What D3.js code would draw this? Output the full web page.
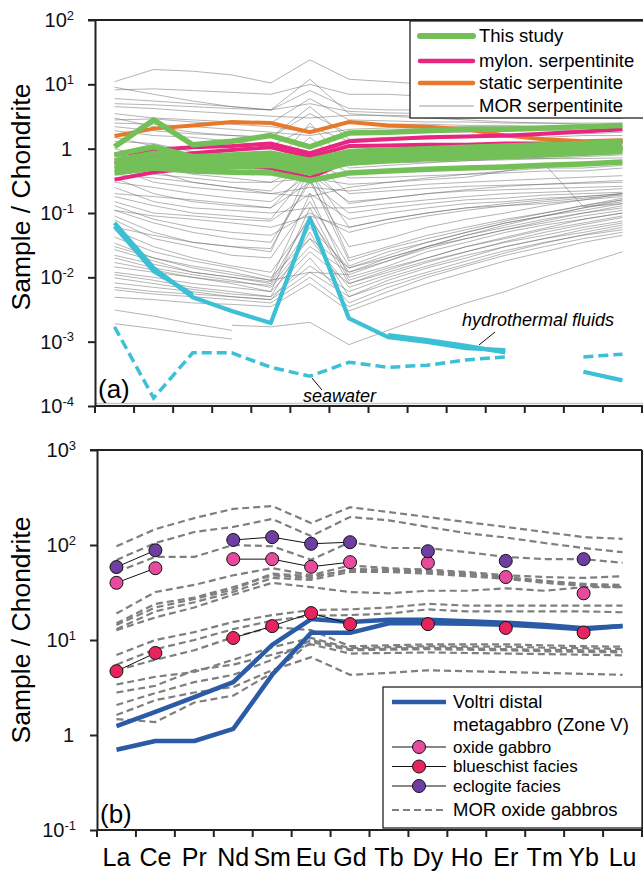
<!DOCTYPE html>
<html>
<head>
<meta charset="utf-8">
<script src="https://cdn.jsdelivr.net/npm/d3@7"></script>
<style>
  body { margin: 0; background: #fff; }
  svg { display: block; font-family: 'Liberation Sans', Arial, sans-serif; }
</style>
</head>
<body>
<div id="chart"></div>
<script>
const W = 643
const H = 872

const rees = ['La', 'Ce', 'Pr', 'Nd', 'Sm', 'Eu', 'Gd', 'Tb', 'Dy', 'Ho', 'Er', 'Tm', 'Yb', 'Lu']
const _ = null

// ---- panel (a): serpentinites ----
const thisStudy = [
  [1.07, 2.8, 1.15, 1.3, 1.6, 1.07, 1.75, 1.8, 1.9, 2.0, 2.0, 2.1, 2.2, 2.3],
  [0.8, 1.07, 0.75, 0.8, 0.85, 0.66, 0.9, 0.95, 1.0, 1.05, 1.1, 1.15, 1.2, 1.3],
  [0.65, 0.85, 0.7, 0.7, 0.75, 0.55, 0.8, 0.85, 0.9, 0.9, 0.95, 1.0, 1.05, 1.1],
  [0.55, 0.7, 0.6, 0.6, 0.65, 0.5, 0.7, 0.75, 0.8, 0.82, 0.85, 0.9, 0.95, 1.0],
  [0.48, 0.6, 0.5, 0.52, 0.55, 0.42, 0.6, 0.65, 0.7, 0.72, 0.75, 0.8, 0.85, 0.9],
  [0.42, 0.5, 0.45, 0.43, 0.42, 0.32, 0.42, 0.45, 0.48, 0.5, 0.52, 0.55, 0.58, 0.62]
]
const mylonSerp = [
  [0.8, 0.95, 1.05, 1.1, 1.2, 0.85, 1.3, 1.4, 1.5, 1.55, 1.6, 1.7, 1.85, 2.0],
  [0.6, 0.75, 0.85, 0.95, 1.05, 0.75, 1.1, 1.12, 1.15, 1.15, 1.2, 1.2, 1.2, 1.3],
  [0.33, 0.43, 0.5, 0.55, 0.5, 0.35, 0.65, 0.75, 0.8, 0.8, 0.85, 0.9, 0.95, 1.0]
]
const staticSerp = [1.57, 2.05, 2.3, 2.6, 2.5, 1.8, 2.6, 2.3, 2.2, 2.0, 1.6, 1.4, 1.3, 1.35]
const morSerp = [
  [11, 17, 16, 14, 10.5, 24, 12, 11, 10, 9, 9, 8, 8, 8],
  [8.2, 8.5, 8, 7.5, 7, 10, 7, 7, 6.5, 6, 6, 6, 5.5, 5.5],
  [6, 5.5, 5, 4.5, 4, 8, 4.2, 4, 4, 3.8, 3.8, 3.6, 3.5, 3.5],
  [4.5, 4.2, 3.8, 3.5, 3.2, 3, 3.3, 3.3, 3.2, 3.2, 3.1, 3.1, 3, 3],
  [3.5, 3, 2.8, 2.6, 2.5, 6, 2.8, 2.7, 2.6, 2.6, 2.5, 2.5, 2.5, 2.5],
  [2.8, 2.9, 2.6, 2.4, 2.2, 1.8, 2.5, 2.4, 2.4, 2.3, 2.3, 2.2, 2.2, 2.2],
  [2.2, 1.9, 1.7, 1.6, 1.5, 3.5, 1.7, 1.8, 1.8, 1.8, 1.9, 1.9, 1.9, 2],
  [1.9, 1.6, 1.5, 1.3, 1.1, 2.2, 1.3, 1.4, 1.4, 1.5, 1.5, 1.5, 1.6, 1.6],
  [5, 4.8, 4.5, 4.2, 4, 5, 3.8, 3.6, 3.5, 3.4, 3.3, 3.2, 3.1, 3],
  [2.5, 2.4, 2.2, 2, 1.8, 1.6, 2, 2.1, 2.1, 2.2, 2.2, 2.2, 2.3, 2.3],
  [9, 7, 5.5, 4.5, 4, 12, 3.5, 3.2, 3, 2.8, 2.6, 2.5, 2.4, 2.3],
  [3, 2.2, 1.8, 1.6, 1.5, 4.5, 1.4, 1.5, 1.5, 1.6, 1.6, 1.7, 1.7, 1.8],
  [1.3, 1.2, 0.9, 0.8, 0.7, 0.5, 0.75, 0.8, 0.85, 0.9, 0.9, 0.95, 1, 1],
  [1.0, 0.7, 0.55, 0.5, 0.45, 1.5, 0.5, 0.55, 0.6, 0.65, 0.7, 0.7, 0.75, 0.8],
  [0.8, 0.6, 0.5, 0.45, 0.4, 0.9, 0.42, 0.45, 0.5, 0.5, 0.55, 0.55, 0.6, 0.6],
  [0.6, 0.55, 0.4, 0.35, 0.3, 0.6, 0.35, 0.36, 0.38, 0.4, 0.42, 0.45, 0.45, 0.5],
  [0.5, 0.3, 0.25, 0.22, 0.2, 0.25, 0.22, 0.25, 0.28, 0.3, 0.32, 0.34, 0.36, 0.38],
  [0.4, 0.35, 0.3, 0.25, 0.22, 0.7, 0.2, 0.22, 0.24, 0.26, 0.27, 0.28, 0.29, 0.3],
  [0.3, 0.25, 0.2, 0.17, 0.15, 0.4, 0.15, 0.17, 0.2, 0.22, 0.23, 0.24, 0.25, 0.26],
  [0.25, 0.15, 0.12, 0.11, 0.1, 0.12, 0.12, 0.14, 0.16, 0.18, 0.2, 0.21, 0.22, 0.24],
  [0.2, 0.18, 0.16, 0.14, 0.12, 0.3, 0.1, 0.12, 0.14, 0.16, 0.17, 0.19, 0.2, 0.21],
  [0.15, 0.1, 0.09, 0.08, 0.075, 0.2, 0.08, 0.1, 0.12, 0.14, 0.15, 0.17, 0.18, 0.2],
  [0.11, 0.09, 0.08, 0.07, 0.06, 0.09, 0.06, 0.08, 0.1, 0.12, 0.13, 0.14, 0.16, 0.18],
  [0.45, 0.4, 0.35, 0.3, 0.3, 0.35, 0.28, 0.3, 0.33, 0.36, 0.45, 0.58, 0.125, 0.14],
  [1.5, 1.1, 0.8, 0.6, 0.5, 2.5, 0.55, 0.6, 0.62, 0.65, 0.67, 0.7, 0.7, 0.72],
  [0.7, 0.45, 0.3, 0.25, 0.2, 0.18, 0.25, 0.3, 0.35, 0.4, 0.45, 0.5, 0.5, 0.55],
  [0.35, 0.2, 0.15, 0.13, 0.12, 0.5, 0.14, 0.17, 0.2, 0.23, 0.26, 0.28, 0.3, 0.32],
  [0.18, 0.13, 0.1, 0.09, 0.08, 0.45, 0.06, 0.08, 0.1, 0.12, 0.14, 0.16, 0.18, 0.2],
  [0.13, 0.08, 0.06, 0.05, 0.045, 0.1, 0.05, 0.07, 0.09, 0.11, 0.13, 0.15, 0.17, 0.19],
  [0.11, 0.07, 0.05, 0.04, 0.035, 0.3, 0.03, 0.04, 0.06, 0.08, 0.1, 0.13, 0.16, 0.2],
  [0.09, 0.05, 0.035, 0.03, 0.025, 0.5, 0.02, 0.03, 0.045, 0.06, 0.08, 0.1, 0.13, 0.16],
  [0.078, 0.04, 0.03, 0.022, 0.02, 0.15, 0.015, 0.025, 0.035, 0.05, 0.07, 0.09, 0.11, 0.14],
  [0.054, 0.03, 0.02, 0.015, 0.012, 0.08, 0.012, 0.02, 0.03, 0.045, 0.06, 0.08, 0.1, 0.12],
  [0.042, 0.025, 0.018, 0.014, 0.01, 0.04, 0.014, 0.022, 0.035, 0.05, 0.07, 0.09, 0.12, 0.15],
  [0.034, 0.02, 0.015, 0.012, 0.009, 0.2, 0.01, 0.015, 0.025, 0.035, 0.05, 0.065, 0.08, 0.1],
  [0.027, 0.018, 0.012, 0.01, 0.008, 0.06, 0.014, 0.02, 0.03, 0.04, 0.055, 0.07, 0.09, 0.11],
  [0.02, 0.014, 0.011, 0.009, 0.007, 0.03, 0.012, 0.018, 0.028, 0.04, 0.055, 0.075, 0.1, 0.13],
  [0.0145, 0.012, 0.01, 0.008, 0.006, 0.12, 0.009, 0.014, 0.02, 0.03, 0.04, 0.055, 0.07, 0.09],
  [0.012, 0.01, 0.008, 0.007, 0.006, 0.025, 0.008, 0.012, 0.018, 0.025, 0.035, 0.045, 0.06, 0.075],
  [0.011, 0.009, 0.007, 0.006, 0.005, 0.015, 0.006, 0.01, 0.015, 0.022, 0.03, 0.04, 0.05, 0.065],
  [0.0098, 0.008, 0.0065, 0.0055, 0.005, 0.05, 0.005, 0.008, 0.012, 0.018, 0.026, 0.035, 0.045, 0.055],
  [0.0082, 0.007, 0.006, 0.005, 0.0045, 0.02, 0.004, 0.007, 0.011, 0.016, 0.024, 0.034, 0.046, 0.06],
  [0.0064, 0.0055, 0.005, 0.0045, 0.004, 0.01, 0.0035, 0.006, 0.01, 0.015, 0.022, 0.03, 0.04, 0.05],
  [0.0049, 0.0045, 0.004, 0.0038, 0.0035, 0.008, 0.003, 0.005, 0.008, 0.012, 0.018, 0.025, 0.035, 0.045],
  [0.0031, 0.0025, 0.0019, 0.0015, _, _, _, _, _, _, _, _, _, _],
  [0.0019, 0.0016, 0.0013, 0.0011, _, _, _, _, _, _, _, _, _, _],
  [_, _, _, 0.0018, 0.0017, 0.002, 0.0009, 0.0015, 0.0025, 0.004, 0.006, 0.01, 0.016, 0.025],
  [0.06, 0.045, 0.035, 0.03, 0.028, 0.35, 0.018, 0.028, 0.04, 0.055, 0.075, 0.1, 0.13, 0.17],
  [0.03, 0.02, 0.014, 0.011, 0.009, 0.012, 0.011, 0.018, 0.03, 0.045, 0.065, 0.09, 0.12, 0.16],
  [0.022, 0.016, 0.012, 0.01, 0.0085, 0.09, 0.008, 0.013, 0.02, 0.03, 0.042, 0.058, 0.08, 0.1],
  [0.017, 0.013, 0.01, 0.0085, 0.0075, 0.04, 0.007, 0.011, 0.017, 0.025, 0.036, 0.05, 0.066, 0.085],
  [0.007, 0.006, 0.0055, 0.005, 0.0045, 0.012, 0.005, 0.009, 0.014, 0.02, 0.03, 0.04, 0.055, 0.07]
]
const hydroFluids = [
  [0.07, 0.014, 0.0049, 0.003, 0.00195, 0.083, 0.0023, 0.00118, 0.00099, 0.00079, 0.00074, _, 0.00034, 0.00025],
  [0.062, 0.0125, 0.0054, _, _, _, _, 0.00126, 0.00106, 0.00086, 0.00068, _, _, _]
]
const seawater = [0.0017, 0.000133, 0.00067, 0.00067, 0.0004, 0.00029, 0.00048, 0.0004, 0.00043, 0.00052, 0.00058, _, 0.00058, 0.00064]

// ---- panel (b): metagabbros ----
const voltri = [
  [1.24, 1.75, 2.5, 3.6, 8.9, 16.6, 15.5, 16.3, 16.3, 15.8, 15.2, 14.4, 13.3, 14],
  [0.7, 0.865, 0.865, 1.16, 4.3, 11.9, 11.9, 15, 15, 14.8, 14.5, 13.8, 13, 14]
]
const oxideGabbro = [40, 57, _, 71, 71, 59, 66, _, 65, _, 46, _, 31, _]
const blueschist = [4.7, 7.3, _, 10.5, 14, 19.2, 14.7, _, 14.7, _, 13.4, _, 12, _]
const eclogite = [58.6, 88, _, 113, 121, 103, 107, _, 86, _, 68, _, 71, _]
const morGabbros = [
  [97, 147, 192, 240, 257, 170, 250, 222, 197, 174, 155, 137, 121, 116],
  [69.5, 105, 137, 155, 188, 124, 197, 182, 155, 133, 120, 105, 93, 84],
  [52, 75, 75, 100, 97, 70, 107, 93, 93, 84, 75, 71, 71, 65],
  [19, 32, 38, 48, 57, 48, 61, 57, 55, 52, 48, 46, 45, 47],
  [15, 24, 28, 36, 48, 45, 56, 55, 53, 50, 46, 42, 39, 38],
  [14.4, 22, 27, 34, 50, 47, 54, 54, 52, 49, 45, 41, 38, 37],
  [13, 20, 25, 32, 45, 43, 52, 52, 50, 47, 44, 40, 37, 36],
  [12.7, 17.3, 22, 30, 40, 36, 32, 31, 33, 33, 35, 33, 36, 36],
  [6.95, 10, 12.1, 15.5, 18.3, 20.7, 21, 22, 24, 23, 23, 23, 23, 23],
  [5.5, 8, 10, 13, 16, 18, 18.3, 19, 21, 20, 20, 20, 20, 19.6],
  [4.8, 6.2, 7.8, 10.7, 13.7, 12.7, 8.6, 8.8, 9, 9, 9, 8.8, 8.6, 8.5],
  [3.4, 4.1, 4.6, 6.2, 8.4, 10.5, 8.2, 8.4, 8.6, 8.5, 8.5, 8.3, 8.2, 8.0],
  [2.07, 2.76, 3.6, 4.3, 6.2, 10, 8.0, 8.1, 8.3, 8.2, 8.0, 7.9, 7.8, 7.6],
  [1.62, 2.33, 2.8, 3.2, 4.8, 6.6, 4.3, 4.5, 4.8, 4.7, 4.6, 4.5, 4.4, 4.3],
  [1.47, 1.37, 2.2, 2.6, 4.5, 9.5, 7.8, 7.9, 8.0, 7.9, 7.8, 7.6, 7.5, 7.4],
  [2.8, 3.3, 4.8, 5.5, 7, 9, 7.2, 7.3, 7.4, 7.3, 7.2, 7.1, 7.0, 6.9]
]

const ticksA = [1e-4, 1e-3, 1e-2, 1e-1, 1, 10, 100]
const ticksB = [1e-1, 1, 10, 100, 1000]

const svg = d3
  .select('#chart')
  .append('svg')
  .attr('width', W)
  .attr('height', H)

const xa = d3.scaleBand().domain(rees).range([95, 642])
const xb = d3.scaleBand().domain(rees).range([97, 642])
const ya = d3.scaleLog().domain([1e-4, 1e2]).range([406, 20])
const yb = d3.scaleLog().domain([1e-1, 1e3]).range([830, 450])

function lineFor(xs, ys) {
  return d3
    .line()
    .defined(d => d != null)
    .x((d, i) => xs(rees[i]) + xs.bandwidth() / 2)
    .y(d => ys(d))
}

function drawYAxis(scale, ticks, x0) {
  const g = svg
    .append('g')
    .attr('transform', `translate(${x0},0)`)
    .call(
      d3
        .axisLeft(scale)
        .tickValues(ticks)
        .tickSize(7)
        .tickSizeOuter(0)
        .tickPadding(14)
        .tickFormat(() => '')
    )
  g.attr('font-size', 20).attr('font-family', null)
  g.select('.domain').attr('stroke', '#222').attr('stroke-width', 2)
  g.selectAll('.tick line').attr('stroke', '#222').attr('stroke-width', 2)
  g.selectAll('.tick text')
    .attr('fill', '#111')
    .each(function(d) {
      const t = d3.select(this)
      const e = Math.round(Math.log10(d))
      if (e === 0) {
        t.attr('x', -23).text('1')
      } else {
        t.append('tspan').text('10')
        t.append('tspan')
          .attr('dy', '-0.55em')
          .attr('font-size', 13)
          .text(e)
      }
    })
}

function drawXTicks(xs, y0) {
  const pos = rees.map(d => xs(d)).concat([xs.range()[1]])
  svg
    .append('g')
    .selectAll('line')
    .data(pos)
    .enter()
    .append('line')
    .attr('x1', d => d)
    .attr('x2', d => d)
    .attr('y1', y0)
    .attr('y2', y0 + 7)
    .attr('stroke', '#222')
    .attr('stroke-width', 2)
  svg
    .append('line')
    .attr('x1', xs.range()[0])
    .attr('x2', W)
    .attr('y1', y0)
    .attr('y2', y0)
    .attr('stroke', '#222')
    .attr('stroke-width', 2)
}

// ================= panel (a) =================
const lineA = lineFor(xa, ya)

svg
  .append('line')
  .attr('x1', 95)
  .attr('x2', W)
  .attr('y1', 403.5)
  .attr('y2', 403.5)
  .attr('stroke', '#c8c8c8')
  .attr('stroke-width', 1.5)

svg
  .append('g')
  .selectAll('path')
  .data(morSerp)
  .enter()
  .append('path')
  .attr('d', lineA)
  .attr('fill', 'none')
  .attr('stroke', '#666')
  .attr('stroke-opacity', 0.55)
  .attr('stroke-width', 0.9)

svg
  .append('g')
  .selectAll('path')
  .data(hydroFluids)
  .enter()
  .append('path')
  .attr('d', lineA)
  .attr('fill', 'none')
  .attr('stroke', '#3dbfd6')
  .attr('stroke-width', 4.2)
  .attr('stroke-linejoin', 'round')

svg
  .append('path')
  .attr('d', lineA(seawater))
  .attr('fill', 'none')
  .attr('stroke', '#3dbfd6')
  .attr('stroke-width', 3.5)
  .attr('stroke-dasharray', '10,5')

svg
  .append('path')
  .attr('d', lineA(staticSerp))
  .attr('fill', 'none')
  .attr('stroke', '#e8782a')
  .attr('stroke-width', 4)

svg
  .append('g')
  .selectAll('path')
  .data(mylonSerp)
  .enter()
  .append('path')
  .attr('d', lineA)
  .attr('fill', 'none')
  .attr('stroke', '#e8267f')
  .attr('stroke-width', 4)

svg
  .append('g')
  .selectAll('path')
  .data(thisStudy)
  .enter()
  .append('path')
  .attr('d', lineA)
  .attr('fill', 'none')
  .attr('stroke', '#73bf58')
  .attr('stroke-width', 5.5)
  .attr('stroke-linejoin', 'round')

drawYAxis(ya, ticksA, 95)
drawXTicks(xa, 406)
svg
  .append('line')
  .attr('x1', 88)
  .attr('x2', W)
  .attr('y1', 20)
  .attr('y2', 20)
  .attr('stroke', '#222')
  .attr('stroke-width', 2)

// annotations
svg
  .append('text')
  .attr('x', 462)
  .attr('y', 326)
  .attr('font-size', 18)
  .attr('font-style', 'italic')
  .text('hydrothermal fluids')
svg
  .append('line')
  .attr('x1', 495)
  .attr('y1', 332)
  .attr('x2', 479)
  .attr('y2', 345)
  .attr('stroke', '#111')
  .attr('stroke-width', 1)
svg
  .append('text')
  .attr('x', 303)
  .attr('y', 402)
  .attr('font-size', 18)
  .attr('font-style', 'italic')
  .text('seawater')
svg
  .append('line')
  .attr('x1', 312)
  .attr('y1', 378)
  .attr('x2', 322)
  .attr('y2', 390)
  .attr('stroke', '#111')
  .attr('stroke-width', 1)

svg
  .append('text')
  .attr('x', 98)
  .attr('y', 398)
  .attr('font-size', 26)
  .text('(a)')

// legend (a)
const legA = [
  { label: 'This study', color: '#73bf58', w: 6 },
  { label: 'mylon. serpentinite', color: '#e8267f', w: 4.5 },
  { label: 'static serpentinite', color: '#e8782a', w: 4.5 },
  { label: 'MOR serpentinite', color: '#cccccc', w: 2 }
]
svg
  .append('rect')
  .attr('x', 410)
  .attr('y', 21)
  .attr('width', 245)
  .attr('height', 97)
  .attr('fill', '#fff')
  .attr('stroke', '#222')
  .attr('stroke-width', 1.3)
const legAItems = svg
  .append('g')
  .selectAll('g')
  .data(legA)
  .enter()
  .append('g')
  .attr('transform', (d, i) => `translate(0, ${[36, 61, 83, 106][i]})`)
legAItems
  .append('line')
  .attr('x1', 420)
  .attr('x2', 473)
  .attr('stroke', d => d.color)
  .attr('stroke-width', d => d.w)
  .attr('stroke-linecap', 'round')
legAItems
  .append('text')
  .attr('x', 479)
  .attr('dy', '0.35em')
  .attr('font-size', 18.5)
  .text(d => d.label)

// y title
function yTitle(cy) {
  svg
    .append('text')
    .attr('transform', `translate(30, ${cy}) rotate(-90)`)
    .attr('text-anchor', 'middle')
    .attr('font-size', 26.5)
    .text('Sample / Chondrite')
}
yTitle(197)
yTitle(630)

// ================= panel (b) =================
const lineB = lineFor(xb, yb)

svg
  .append('g')
  .selectAll('path')
  .data(morGabbros)
  .enter()
  .append('path')
  .attr('d', lineB)
  .attr('fill', 'none')
  .attr('stroke', '#7f7f7f')
  .attr('stroke-width', 2.2)
  .attr('stroke-dasharray', '7,4')

svg
  .append('g')
  .selectAll('path')
  .data(voltri)
  .enter()
  .append('path')
  .attr('d', lineB)
  .attr('fill', 'none')
  .attr('stroke', '#2b5aa6')
  .attr('stroke-width', 4.5)
  .attr('stroke-linejoin', 'round')

const markerSets = [
  { values: oxideGabbro, color: '#e64b9d' },
  { values: blueschist, color: '#e8245e' },
  { values: eclogite, color: '#6c3fa0' }
]
markerSets.forEach(s => {
  svg
    .append('path')
    .attr('d', lineB(s.values))
    .attr('fill', 'none')
    .attr('stroke', '#111')
    .attr('stroke-width', 1)
})
markerSets.forEach(s => {
  svg
    .append('g')
    .selectAll('circle')
    .data(s.values.map((v, i) => ({ v, k: rees[i] })).filter(d => d.v != null))
    .enter()
    .append('circle')
    .attr('cx', d => xb(d.k) + xb.bandwidth() / 2)
    .attr('cy', d => yb(d.v))
    .attr('r', 6.5)
    .attr('fill', s.color)
    .attr('stroke', '#111')
    .attr('stroke-width', 1)
})

drawYAxis(yb, ticksB, 97)
drawXTicks(xb, 830)
svg
  .append('line')
  .attr('x1', 90)
  .attr('x2', 642)
  .attr('y1', 450)
  .attr('y2', 450)
  .attr('stroke', '#222')
  .attr('stroke-width', 2)
svg
  .append('line')
  .attr('x1', 642)
  .attr('x2', 642)
  .attr('y1', 450)
  .attr('y2', 830)
  .attr('stroke', '#222')
  .attr('stroke-width', 2)

svg
  .append('g')
  .selectAll('text')
  .data(rees)
  .enter()
  .append('text')
  .attr('x', d => xb(d) + xb.bandwidth() / 2)
  .attr('y', 866)
  .attr('text-anchor', 'middle')
  .attr('font-size', 25)
  .text(d => d)

svg
  .append('text')
  .attr('x', 100)
  .attr('y', 823)
  .attr('font-size', 26)
  .text('(b)')

// legend (b)
svg
  .append('rect')
  .attr('x', 383)
  .attr('y', 687)
  .attr('width', 259)
  .attr('height', 141)
  .attr('fill', '#fff')
  .attr('stroke', '#222')
  .attr('stroke-width', 1.3)
svg
  .append('line')
  .attr('x1', 392)
  .attr('x2', 446)
  .attr('y1', 702)
  .attr('y2', 702)
  .attr('stroke', '#2b5aa6')
  .attr('stroke-width', 4.5)
svg
  .append('text')
  .attr('x', 453)
  .attr('y', 702)
  .attr('dy', '0.35em')
  .attr('font-size', 18.5)
  .text('Voltri distal')
svg
  .append('text')
  .attr('x', 453)
  .attr('y', 725)
  .attr('dy', '0.35em')
  .attr('font-size', 18.5)
  .text('metagabbro (Zone V)')

const legB = [
  { label: 'oxide gabbro', color: '#e64b9d', y: 747 },
  { label: 'blueschist facies', color: '#e8245e', y: 766.5 },
  { label: 'eclogite facies', color: '#6c3fa0', y: 786 }
]
const legBItems = svg
  .append('g')
  .selectAll('g')
  .data(legB)
  .enter()
  .append('g')
  .attr('transform', d => `translate(0, ${d.y})`)
legBItems
  .append('line')
  .attr('x1', 392)
  .attr('x2', 446)
  .attr('stroke', '#111')
  .attr('stroke-width', 1)
legBItems
  .append('circle')
  .attr('cx', 419)
  .attr('r', 6.5)
  .attr('fill', d => d.color)
  .attr('stroke', '#111')
legBItems
  .append('text')
  .attr('x', 453)
  .attr('dy', '0.35em')
  .attr('font-size', 17)
  .text(d => d.label)

svg
  .append('line')
  .attr('x1', 392)
  .attr('x2', 446)
  .attr('y1', 810)
  .attr('y2', 810)
  .attr('stroke', '#7f7f7f')
  .attr('stroke-width', 2.2)
  .attr('stroke-dasharray', '7,4')
svg
  .append('text')
  .attr('x', 453)
  .attr('y', 810)
  .attr('dy', '0.35em')
  .attr('font-size', 18.5)
  .text('MOR oxide gabbros')
</script>
</body>
</html>
